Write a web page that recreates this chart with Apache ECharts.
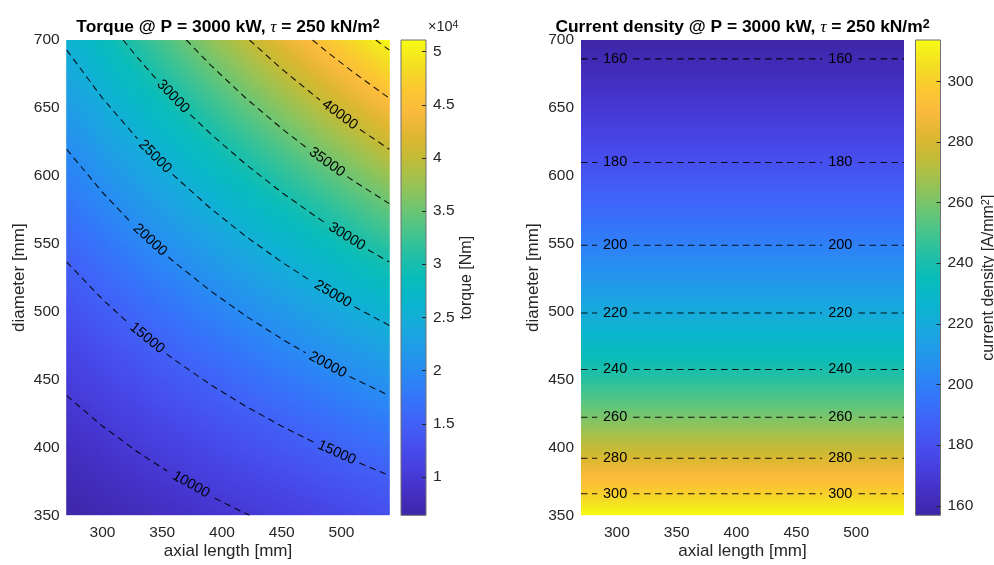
<!DOCTYPE html>
<html>
<head>
<meta charset="utf-8">
<script src="https://cdn.jsdelivr.net/npm/echarts@6/dist/echarts.min.js"></script>
<style>
html, body { margin: 0; padding: 0; background: #fff; }
#main { width: 994px; height: 565px; }
</style>
</head>
<body>
<div id="main"></div>
<script>
"use strict";

// grid nodes (mm)
var axialLength = [270, 300, 330, 360, 390, 420, 450, 480, 510, 540];
var diameter = [350, 375, 400, 425, 450, 475, 500, 525, 550, 575, 600, 625, 650, 675, 700];

// torque [Nm], one row per diameter, one column per axial length
var torque = [
  [6380, 7090, 7800, 8510, 9220, 9930, 10640, 11350, 12060, 12770],
  [7330, 8140, 8960, 9770, 10590, 11400, 12210, 13030, 13840, 14660],
  [8340, 9260, 10190, 11120, 12040, 12970, 13900, 14820, 15750, 16680],
  [9410, 10460, 11500, 12550, 13600, 14640, 15690, 16730, 17780, 18820],
  [10550, 11720, 12900, 14070, 15240, 16410, 17590, 18760, 19930, 21100],
  [11760, 13060, 14370, 15680, 16980, 18290, 19600, 20900, 22210, 23510],
  [13030, 14480, 15920, 17370, 18820, 20270, 21710, 23160, 24610, 26060],
  [14360, 15960, 17560, 19150, 20750, 22340, 23940, 25530, 27130, 28730],
  [15760, 17510, 19270, 21020, 22770, 24520, 26270, 28020, 29780, 31530],
  [17230, 19140, 21060, 22970, 24890, 26800, 28710, 30630, 32540, 34460],
  [18760, 20840, 22930, 25010, 27100, 29180, 31270, 33350, 35430, 37520],
  [20360, 22620, 24880, 27140, 29400, 31660, 33930, 36190, 38450, 40710],
  [22020, 24460, 26910, 29360, 31800, 34250, 36690, 39140, 41590, 44030],
  [23740, 26380, 29020, 31660, 34300, 36930, 39570, 42210, 44850, 47490],
  [25530, 28370, 31210, 34050, 36880, 39720, 42560, 45390, 48230, 51070]
];

// current density [A/mm2] per diameter (same for every axial length)
var currentDensity = [313.6, 292.7, 274.4, 258.3, 243.9, 231.1, 219.5, 209.1, 199.6, 190.9, 182.9, 175.6, 168.9, 162.6, 156.8];

var axialTicks = [300, 350, 400, 450, 500];
var torqueTicks = [10000, 15000, 20000, 25000, 30000, 35000, 40000, 45000, 50000];
var densityTicks = [160, 180, 200, 220, 240, 260, 280, 300];

// torque contour lines, [axial length, diameter], split where the label sits
var contour10000 = [
  [[270, 438.1], [300, 415.6], [330, 396.2], [354, 382.6]],
  [[394, 362.6], [410, 355.5], [423, 350]]
];
var contour15000 = [
  [[270, 536.5], [300, 509.0], [321, 492.1]],
  [[353.5, 468.9], [360, 464.6], [390, 446.4], [420, 430.2], [450, 415.6], [477, 403.7]],
  [[515, 388.5], [540, 379.4]]
];
var contour20000 = [
  [[270, 619.5], [300, 587.7], [324.3, 565.3]],
  [[355.1, 540.2], [360, 536.5], [390, 515.5], [420, 496.7], [450, 479.9], [470, 469.6]],
  [[506.8, 452.2], [510, 450.8], [540, 438.1]]
];
var contour25000 = [
  [[270, 692.6], [300, 657.1], [329.2, 627.3]],
  [[358.6, 601.0], [390, 576.3], [420, 555.3], [450, 536.5], [474.8, 522.3]],
  [[510.8, 503.6], [540, 489.8]]
];
var contour30000 = [
  [[317.2, 700], [330, 686.3], [344.5, 671.7]],
  [[373.5, 645.1], [390, 631.3], [420, 608.4], [450, 587.7], [480, 569.1], [486.8, 565.1]],
  [[522.2, 545.6], [540, 536.5]]
];
var contour35000 = [
  [[370.1, 700], [390, 681.9], [420, 657.1], [450, 634.8], [470.8, 620.6]],
  [[504.8, 599.4], [510, 596.3], [540, 579.5]]
];
var contour40000 = [
  [[423, 700], [450, 678.6], [481.9, 655.8]],
  [[515.5, 634.1], [540, 619.5]]
];
var contour45000 = [
  [[475.8, 700], [490, 689.8], [510, 676.2], [540, 657.1]]
];
var contour50000 = [
  [[528.7, 700], [540, 692.6]]
];
var torqueLevels = [10000, 15000, 20000, 25000, 30000, 35000, 40000, 45000, 50000];
var torqueContours = [contour10000, contour15000, contour20000, contour25000, contour30000,
  contour35000, contour40000, contour45000, contour50000];

// current density contour lines (horizontal)
var densityLevels = [160, 180, 200, 220, 240, 260, 280, 300];
var densityLevelDiameter = [686.1, 609.8, 548.9, 499.0, 457.4, 422.2, 392.0, 365.9];
var densityLabelGaps = [[283.5, 313.5], [471.5, 502]];

// parula colormap
var parulaStops = [
  [62, 38, 168], [68, 48, 196], [71, 63, 222], [70, 80, 238], [64, 99, 247],
  [52, 118, 250], [41, 138, 243], [33, 155, 232], [23, 170, 220], [10, 182, 204],
  [8, 188, 186], [36, 192, 164], [74, 196, 138], [115, 197, 110], [156, 194, 82],
  [195, 187, 55], [224, 183, 48], [251, 186, 61], [250, 202, 48], [243, 225, 34],
  [249, 251, 20]
];

function parula(t) {
  t = Math.max(0, Math.min(1, t));
  var n = parulaStops.length - 1;
  var f = t * n;
  var i = Math.min(Math.floor(f), n - 1);
  var u = f - i;
  var a = parulaStops[i], b = parulaStops[i + 1];
  return 'rgb(' + Math.round(a[0] + (b[0] - a[0]) * u) + ',' +
    Math.round(a[1] + (b[1] - a[1]) * u) + ',' +
    Math.round(a[2] + (b[2] - a[2]) * u) + ')';
}

var FONT = 'Liberation Sans, Arial, Helvetica, sans-serif';
var TXT = '#262626';

var torqueMin = Math.min.apply(null, torque.map(function (r) { return Math.min.apply(null, r); }));
var torqueMax = Math.max.apply(null, torque.map(function (r) { return Math.max.apply(null, r); }));
var densityMin = Math.min.apply(null, currentDensity);
var densityMax = Math.max.apply(null, currentDensity);

function buildCells(xs, ys, grid) {
  var cells = [];
  for (var i = 0; i < ys.length - 1; i++) {
    for (var j = 0; j < xs.length - 1; j++) {
      cells.push([xs[j], xs[j + 1], ys[i], ys[i + 1],
        grid[i][j], grid[i][j + 1], grid[i + 1][j], grid[i + 1][j + 1]]);
    }
  }
  return cells;
}

// each cell is shaded with a gradient along its local value slope
function cellRenderer(vmin, vmax) {
  return function (params, api) {
    var p0 = api.coord([api.value(0), api.value(2)]);
    var p1 = api.coord([api.value(1), api.value(3)]);
    var v00 = api.value(4), v10 = api.value(5), v01 = api.value(6), v11 = api.value(7);
    var x = p0[0], y = p1[1], w = p1[0] - p0[0], h = p0[1] - p1[1];
    var gx = ((v10 - v00) + (v11 - v01)) / 2 / w;
    var gy = ((v00 - v01) + (v10 - v11)) / 2 / h;
    var g = Math.sqrt(gx * gx + gy * gy) || 1e-9;
    var ux = gx / g, uy = gy / g;
    var s = (Math.abs(ux) * w + Math.abs(uy) * h) / 2;
    var cx = x + w / 2, cy = y + h / 2;
    var vc = (v00 + v10 + v01 + v11) / 4;
    var stops = [];
    for (var k = 0; k <= 6; k++) {
      var t = k / 6;
      var v = vc + (2 * t - 1) * g * s;
      stops.push({ offset: t, color: parula((v - vmin) / (vmax - vmin)) });
    }
    return {
      type: 'rect',
      shape: { x: x - 0.5, y: y - 0.5, width: w + 1, height: h + 1 },
      style: { fill: new echarts.graphic.LinearGradient(cx - ux * s, cy - uy * s, cx + ux * s, cy + uy * s, stops, true) }
    };
  };
}

// colorbar: gradient box plus short ticks on its inner right edge
function colorbarRenderer(ticks) {
  return function (params, api) {
    var p0 = api.coord([0, api.value(1)]);
    var p1 = api.coord([1, api.value(2)]);
    var n = parulaStops.length - 1;
    var stops = parulaStops.map(function (c, i) {
      return { offset: i / n, color: 'rgb(' + c[0] + ',' + c[1] + ',' + c[2] + ')' };
    });
    var children = [{
      type: 'rect',
      shape: { x: p0[0], y: p1[1], width: p1[0] - p0[0], height: p0[1] - p1[1] },
      style: { fill: new echarts.graphic.LinearGradient(0, 1, 0, 0, stops), stroke: '#707070', lineWidth: 1 }
    }];
    ticks.forEach(function (tv) {
      var py = Math.round(api.coord([1, tv])[1]) + 0.5;
      children.push({
        type: 'line',
        shape: { x1: p1[0] - 4, y1: py, x2: p1[0], y2: py },
        style: { stroke: '#262626', lineWidth: 1 }
      });
    });
    return { type: 'group', children: children };
  };
}

function labelRenderer(params, api) {
  var pa = api.coord([api.value(0), api.value(1)]);
  var pb = api.coord([api.value(2), api.value(3)]);
  var ang = Math.atan2(pb[1] - pa[1], pb[0] - pa[0]);
  return {
    type: 'text',
    x: (pa[0] + pb[0]) / 2,
    y: (pa[1] + pb[1]) / 2,
    rotation: -ang,
    style: {
      text: String(api.value(4)),
      fontSize: 14.5, fontFamily: FONT, fill: '#000',
      textAlign: 'center', textVerticalAlign: 'middle',
      align: 'center', verticalAlign: 'middle'
    }
  };
}

var series = [];

series.push({
  type: 'custom', xAxisIndex: 0, yAxisIndex: 0, z: 1, clip: true, silent: true,
  renderItem: cellRenderer(torqueMin, torqueMax),
  encode: { x: [0, 1], y: [2, 3] },
  data: buildCells(axialLength, diameter, torque)
});
series.push({
  type: 'custom', xAxisIndex: 2, yAxisIndex: 2, z: 1, clip: true, silent: true,
  renderItem: cellRenderer(densityMin, densityMax),
  encode: { x: [0, 1], y: [2, 3] },
  data: buildCells([axialLength[0], axialLength[axialLength.length - 1]], diameter,
    currentDensity.map(function (v) { return [v, v]; }))
});
series.push({
  type: 'custom', xAxisIndex: 1, yAxisIndex: 1, z: 1, silent: true,
  renderItem: colorbarRenderer(torqueTicks), encode: { x: 0, y: [1, 2] },
  data: [[0, torqueMin, torqueMax]]
});
series.push({
  type: 'custom', xAxisIndex: 3, yAxisIndex: 3, z: 1, silent: true,
  renderItem: colorbarRenderer(densityTicks), encode: { x: 0, y: [1, 2] },
  data: [[0, densityMin, densityMax]]
});

var lineStyle = { color: 'rgba(0,0,0,0.9)', width: 1.1, type: [6.5, 4.5] };

function addContourLines(segments, xi) {
  segments.forEach(function (seg) {
    series.push({
      type: 'line', xAxisIndex: xi, yAxisIndex: xi, z: 3, silent: true,
      symbol: 'none', lineStyle: lineStyle, data: seg
    });
  });
}

var torqueLabels = [];
torqueContours.forEach(function (segs, k) {
  addContourLines(segs, 0);
  for (var i = 0; i < segs.length - 1; i++) {
    var a = segs[i][segs[i].length - 1], b = segs[i + 1][0];
    torqueLabels.push([a[0], a[1], b[0], b[1], torqueLevels[k]]);
  }
});

var densityLabels = [];
densityLevels.forEach(function (lev, k) {
  var d = densityLevelDiameter[k];
  var xs = [axialLength[0]];
  densityLabelGaps.forEach(function (g) { xs.push(g[0], g[1]); });
  xs.push(axialLength[axialLength.length - 1]);
  var segs = [];
  for (var i = 0; i < xs.length; i += 2) segs.push([[xs[i], d], [xs[i + 1], d]]);
  addContourLines(segs, 2);
  densityLabelGaps.forEach(function (g) { densityLabels.push([g[0], d, g[1], d, lev]); });
});

series.push({
  type: 'custom', xAxisIndex: 0, yAxisIndex: 0, z: 4, silent: true,
  renderItem: labelRenderer, encode: { x: [0, 2], y: [1, 3] }, data: torqueLabels
});
series.push({
  type: 'custom', xAxisIndex: 2, yAxisIndex: 2, z: 4, silent: true,
  renderItem: labelRenderer, encode: { x: [0, 2], y: [1, 3] }, data: densityLabels
});

function mainX(gi) {
  return {
    type: 'value', gridIndex: gi, min: 270, max: 540,
    name: 'axial length [mm]', nameLocation: 'middle', nameGap: 28,
    nameMoveOverlap: false,
    nameTextStyle: { fontSize: 17, color: TXT, fontFamily: FONT },
    axisLine: { show: false }, axisTick: { show: false }, splitLine: { show: false },
    axisLabel: { customValues: axialTicks, fontSize: 15.5, color: TXT, fontFamily: FONT, margin: 9 }
  };
}
function mainY(gi) {
  return {
    type: 'value', gridIndex: gi, min: 350, max: 700, interval: 50,
    name: 'diameter [mm]', nameLocation: 'middle', nameGap: 39, nameRotate: 90,
    nameMoveOverlap: false,
    nameTextStyle: { fontSize: 17, color: TXT, fontFamily: FONT },
    axisLine: { show: false }, axisTick: { show: false }, splitLine: { show: false },
    axisLabel: { fontSize: 15.5, color: TXT, fontFamily: FONT, margin: 7 }
  };
}
function barX(gi) {
  return { type: 'value', gridIndex: gi, min: 0, max: 1, show: false };
}
function barY(gi, vmin, vmax, ticks, fmt, name, gap, rich) {
  return {
    type: 'value', gridIndex: gi, min: vmin, max: vmax, position: 'right',
    name: name, nameLocation: 'middle', nameGap: gap, nameRotate: 90,
    nameMoveOverlap: false,
    nameTextStyle: { fontSize: 16, color: TXT, fontFamily: FONT, rich: rich },
    axisLine: { show: false }, splitLine: { show: false }, axisTick: { show: false },
    axisLabel: { customValues: ticks, formatter: fmt, fontSize: 15.5, color: TXT, fontFamily: FONT, margin: 7 }
  };
}

function titleText(x, word) {
  return {
    type: 'text', x: x, y: 27,
    style: {
      text: '{b|' + word + ' @ P = 3000 kW, }{t|τ}{b| = 250 kN/m}{s|2}',
      textAlign: 'center', textVerticalAlign: 'middle',
      align: 'center', verticalAlign: 'middle',
      fill: '#000',
      rich: {
        b: { fontSize: 17.4, fontWeight: 'bold', fontFamily: FONT, fill: '#000', color: '#000' },
        t: { fontSize: 17.4, fontStyle: 'italic', fontFamily: 'Liberation Serif, serif', fill: '#000', color: '#000' },
        s: { fontSize: 12.5, fontWeight: 'bold', fontFamily: FONT, verticalAlign: 'top', fill: '#000', color: '#000' }
      }
    }
  };
}

var option = {
  backgroundColor: '#fff',
  animation: false,
  grid: [
    { left: 66.7, top: 40, width: 322.6, height: 475.3, outerBoundsMode: 'none', containLabel: false },
    { left: 401, top: 40, width: 25, height: 475.3, outerBoundsMode: 'none', containLabel: false },
    { left: 581, top: 40, width: 323, height: 475.3, outerBoundsMode: 'none', containLabel: false },
    { left: 915.5, top: 40, width: 25, height: 475.3, outerBoundsMode: 'none', containLabel: false }
  ],
  xAxis: [mainX(0), barX(1), mainX(2), barX(3)],
  yAxis: [
    mainY(0),
    barY(1, torqueMin, torqueMax, torqueTicks, function (v) { return String(v / 10000); },
      'torque [Nm]', 33, {}),
    mainY(2),
    barY(3, densityMin, densityMax, densityTicks, function (v) { return String(v); },
      '{a|current density [A/mm}{s|2}{a|]}', 40,
      { a: { fontSize: 16, color: TXT, fontFamily: FONT }, s: { fontSize: 11, color: TXT, fontFamily: FONT, verticalAlign: 'top' } })
  ],
  graphic: [
    titleText(228, 'Torque'),
    titleText(742.5, 'Current density'),
    {
      type: 'text', x: 428, y: 27,
      style: {
        text: '{a|×10}{s|4}', textVerticalAlign: 'middle', verticalAlign: 'middle',
        rich: {
          a: { fontSize: 14.5, fontFamily: FONT, fill: TXT, color: TXT },
          s: { fontSize: 10.5, fontFamily: FONT, fill: TXT, color: TXT, verticalAlign: 'top' }
        }
      }
    }
  ],
  series: series
};

var chart = echarts.init(document.getElementById('main'), null, { renderer: 'canvas' });
chart.setOption(option);
</script>
</body>
</html>
